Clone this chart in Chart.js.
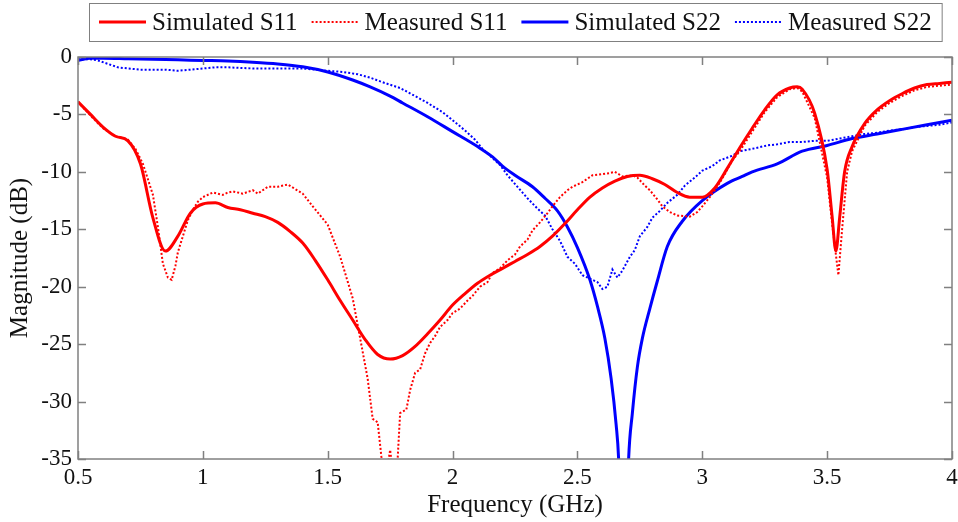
<!DOCTYPE html>
<html>
<head>
<meta charset="utf-8">
<script src="https://cdn.jsdelivr.net/npm/chart.js@4"></script>
<style>
  html, body { margin: 0; padding: 0; background: #fff; }
  canvas { display: block; }
</style>
</head>
<body>
<canvas id="lienzo" width="958" height="522"></canvas>
<script>
// --- data ---
const xTicks = [0.5, 1, 1.5, 2, 2.5, 3, 3.5, 4]
const yTicks = [0, -5, -10, -15, -20, -25, -30, -35]

const simS11Freq = [0.5,0.55,0.6,0.65,0.7,0.75,0.8,0.85,0.9,0.95,1.0,1.05,1.1,1.15,1.2,1.25,1.3,1.35,1.4,1.45,1.5,1.55,1.6,1.65,1.7,1.75,1.8,1.85,1.9,1.95,2.0,2.05,2.1,2.15,2.2,2.25,2.3,2.35,2.4,2.45,2.5,2.55,2.6,2.65,2.7,2.75,2.8,2.85,2.9,2.95,3.0,3.05,3.1,3.15,3.2,3.25,3.3,3.35,3.38,3.4,3.45,3.5,3.52,3.535,3.55,3.57,3.6,3.65,3.7,3.75,3.8,3.85,3.9,3.95,4.0]
const simS11 = [-3.9,-5.0,-6.1,-6.9,-7.3,-9.3,-14.0,-16.9,-15.6,-13.6,-12.8,-12.7,-13.1,-13.3,-13.6,-13.9,-14.4,-15.2,-16.2,-17.7,-19.4,-21.2,-22.9,-24.6,-25.9,-26.3,-26.0,-25.2,-24.1,-22.9,-21.6,-20.6,-19.7,-19.0,-18.4,-17.8,-17.2,-16.5,-15.6,-14.5,-13.3,-12.2,-11.4,-10.8,-10.4,-10.3,-10.6,-11.1,-11.8,-12.2,-12.2,-11.4,-9.7,-7.9,-6.2,-4.6,-3.3,-2.7,-2.6,-2.8,-4.9,-9.8,-13.9,-16.9,-14.0,-10.0,-7.8,-5.8,-4.6,-3.8,-3.2,-2.7,-2.4,-2.3,-2.2]

const meaS11Freq = [0.5,0.55,0.6,0.65,0.7,0.73,0.76,0.8,0.82,0.84,0.86,0.875,0.89,0.9,0.92,0.94,0.96,0.98,1.0,1.04,1.08,1.1,1.12,1.16,1.2,1.22,1.26,1.3,1.34,1.37,1.4,1.44,1.5,1.55,1.6,1.63,1.66,1.68,1.7,1.715,1.73,1.75,1.765,1.78,1.79,1.815,1.83,1.85,1.87,1.89,1.91,1.93,1.95,1.98,2.0,2.03,2.06,2.08,2.11,2.14,2.16,2.19,2.22,2.25,2.27,2.3,2.32,2.35,2.38,2.4,2.43,2.46,2.48,2.52,2.56,2.6,2.63,2.65,2.68,2.72,2.74,2.77,2.79,2.82,2.84,2.87,2.9,2.95,2.98,3.0,3.03,3.06,3.09,3.12,3.15,3.2,3.25,3.3,3.35,3.38,3.4,3.45,3.5,3.52,3.545,3.56,3.58,3.6,3.65,3.7,3.75,3.8,3.85,3.9,3.95,4.0]
const meaS11 = [-3.9,-5.1,-6.2,-6.9,-7.2,-8.0,-9.3,-12.0,-14.8,-18.0,-19.2,-19.4,-18.2,-17.0,-15.6,-14.2,-13.3,-12.6,-12.2,-11.8,-12.0,-11.8,-11.7,-11.9,-11.6,-11.9,-11.3,-11.3,-11.1,-11.5,-11.9,-13.0,-14.6,-17.4,-21.0,-24.5,-28.0,-31.5,-31.8,-34.8,-37.0,-34.2,-37.0,-35.0,-31.0,-30.7,-29.0,-27.5,-27.2,-25.8,-24.9,-24.3,-23.5,-22.9,-22.3,-21.9,-21.2,-20.8,-20.0,-19.6,-18.8,-18.4,-17.7,-17.2,-16.5,-15.9,-15.1,-14.4,-13.6,-13.0,-12.2,-11.6,-11.3,-10.9,-10.3,-10.2,-10.1,-10.0,-10.4,-10.3,-10.5,-11.2,-11.6,-12.4,-13.0,-13.5,-13.8,-13.9,-13.5,-13.0,-12.2,-11.3,-10.2,-9.0,-8.2,-6.5,-4.8,-3.5,-2.8,-2.7,-3.0,-5.3,-10.5,-14.5,-19.0,-15.0,-10.0,-8.2,-6.0,-4.8,-4.0,-3.4,-2.9,-2.6,-2.5,-2.4]

const simS22Freq = [0.5,0.55,0.6,0.7,0.8,0.9,1.0,1.1,1.2,1.3,1.4,1.5,1.6,1.67,1.75,1.8,1.9,2.0,2.1,2.16,2.2,2.25,2.32,2.37,2.42,2.46,2.5,2.55,2.58,2.61,2.635,2.655,2.665,2.685,2.705,2.72,2.74,2.76,2.79,2.82,2.86,2.92,3.0,3.1,3.16,3.2,3.3,3.4,3.5,3.6,3.7,3.8,3.9,4.0]
const simS22 = [-0.3,-0.1,-0.1,-0.15,-0.2,-0.25,-0.3,-0.35,-0.45,-0.6,-0.85,-1.3,-2.0,-2.6,-3.4,-4.0,-5.2,-6.5,-7.8,-8.7,-9.5,-10.3,-11.3,-12.3,-13.4,-14.8,-16.6,-19.4,-21.7,-24.5,-28.0,-32.0,-35.0,-50.0,-35.0,-31.0,-27.0,-24.5,-21.9,-19.5,-16.5,-14.3,-12.5,-11.0,-10.4,-10.0,-9.3,-8.2,-7.7,-7.1,-6.7,-6.3,-5.9,-5.5]

const meaS22Freq = [0.5,0.55,0.58,0.62,0.66,0.7,0.75,0.8,0.85,0.9,0.95,1.0,1.05,1.1,1.2,1.3,1.4,1.5,1.56,1.62,1.67,1.72,1.79,1.85,1.9,1.93,1.96,2.0,2.05,2.09,2.12,2.16,2.19,2.22,2.26,2.3,2.34,2.37,2.4,2.43,2.46,2.49,2.52,2.55,2.58,2.6,2.62,2.64,2.66,2.68,2.71,2.73,2.75,2.78,2.8,2.83,2.86,2.9,2.93,2.97,3.0,3.04,3.07,3.12,3.15,3.2,3.26,3.3,3.35,3.4,3.45,3.5,3.55,3.6,3.65,3.7,3.75,3.8,3.85,3.9,3.95,4.0]
const meaS22 = [-0.2,-0.2,-0.3,-0.6,-0.9,-1.0,-1.1,-1.1,-1.1,-1.2,-1.1,-1.0,-0.9,-0.9,-1.0,-1.0,-1.0,-1.2,-1.3,-1.5,-1.8,-2.2,-2.7,-3.4,-4.0,-4.4,-4.8,-5.5,-6.4,-7.2,-8.0,-8.8,-9.4,-10.3,-11.3,-12.3,-13.2,-13.8,-15.0,-16.0,-17.4,-18.0,-19.0,-19.3,-19.6,-20.2,-20.0,-18.5,-19.2,-18.6,-17.4,-16.8,-15.6,-14.8,-14.0,-13.4,-12.7,-12.0,-11.2,-10.5,-9.9,-9.5,-9.0,-8.6,-8.2,-8.0,-7.7,-7.6,-7.4,-7.4,-7.3,-7.3,-7.1,-6.9,-6.7,-6.6,-6.4,-6.3,-6.1,-6.0,-5.9,-5.7]

const etiquetas = ['Simulated S11', 'Measured S11', 'Simulated S22', 'Measured S22']

const rojo = '#ff0000'
const azul = '#0000ff'
const serif = '"Liberation Serif", "Times New Roman", serif'

const puntos = (fx, fy) => fx.map((v, i) => ({ x: v, y: fy[i] }))

// inward ticks on all four sides + gray frame
const marco = {
    id: 'marco',
    afterDatasetsDraw(chart) {
        const { ctx, chartArea: a, scales } = chart
        ctx.save()
        ctx.strokeStyle = '#808080'
        ctx.lineWidth = 1.5
        ctx.beginPath()
        xTicks.forEach(t => {
            const px = Math.round(scales.x.getPixelForValue(t)) + 0.5
            ctx.moveTo(px, a.bottom); ctx.lineTo(px, a.bottom - 8)
            ctx.moveTo(px, a.top); ctx.lineTo(px, a.top + 8)
        })
        yTicks.forEach(t => {
            const py = Math.round(scales.y.getPixelForValue(t)) + 0.5
            ctx.moveTo(a.left, py); ctx.lineTo(a.left + 8, py)
            ctx.moveTo(a.right, py); ctx.lineTo(a.right - 8, py)
        })
        ctx.stroke()
        ctx.strokeRect(a.left, a.top, a.right - a.left, a.bottom - a.top)
        ctx.restore()
    },
    afterDraw(chart) {
        // boxed legend above the plot
        const { ctx, chartArea: a } = chart
        const muestra = 47, hueco = 6, sep = 14, pad = 10
        ctx.save()
        ctx.font = '25px ' + serif
        const anchos = etiquetas.map(t => ctx.measureText(t).width)
        let total = pad * 2 + anchos.reduce((s, w) => s + w + muestra + hueco, 0) + sep * (etiquetas.length - 1)
        const x0 = Math.round((a.left + a.right) / 2 - total / 2)
        const top = 3, alto = 38
        ctx.fillStyle = '#fff'
        ctx.fillRect(x0, top, total, alto)
        ctx.strokeStyle = '#808080'
        ctx.lineWidth = 1
        ctx.strokeRect(x0 + 0.5, top + 0.5, total, alto)
        let x = x0 + pad
        const yc = top + alto / 2
        chart.data.datasets.forEach((ds, i) => {
            ctx.strokeStyle = ds.borderColor
            ctx.lineWidth = ds.borderWidth
            ctx.setLineDash(ds.borderDash || [])
            ctx.beginPath()
            ctx.moveTo(x, yc); ctx.lineTo(x + muestra, yc)
            ctx.stroke()
            ctx.setLineDash([])
            x += muestra + hueco
            ctx.fillStyle = '#111'
            ctx.textBaseline = 'middle'
            ctx.fillText(etiquetas[i], x, yc + 1)
            x += anchos[i] + sep
        })
        ctx.restore()
    }
}

new Chart(document.getElementById('lienzo'), {
    type: 'line',
    data: {
        datasets: [
            { label: etiquetas[0], data: puntos(simS11Freq, simS11), borderColor: rojo, borderWidth: 3, cubicInterpolationMode: 'monotone' },
            { label: etiquetas[1], data: puntos(meaS11Freq, meaS11), borderColor: rojo, borderWidth: 2, borderDash: [2, 2], tension: 0 },
            { label: etiquetas[2], data: puntos(simS22Freq, simS22), borderColor: azul, borderWidth: 3, cubicInterpolationMode: 'monotone' },
            { label: etiquetas[3], data: puntos(meaS22Freq, meaS22), borderColor: azul, borderWidth: 2, borderDash: [2, 2], tension: 0 }
        ]
    },
    options: {
        responsive: false,
        animation: false,
        devicePixelRatio: 1,
        layout: { padding: { top: 57, right: 6, left: 0, bottom: 0 } },
        elements: { point: { radius: 0 } },
        plugins: { legend: { display: false }, tooltip: { enabled: false } },
        scales: {
            x: {
                type: 'linear', min: 0.5, max: 4,
                grid: { display: false, drawTicks: false },
                border: { display: false },
                afterFit: s => { s.height = 63; s.paddingLeft = 0; s.paddingRight = 0 },
                afterBuildTicks: s => { s.ticks = xTicks.map(v => ({ value: v })) },
                ticks: { color: '#111', font: { family: serif, size: 23 }, padding: 5, maxRotation: 0, callback: v => String(v) },
                title: { display: true, text: 'Frequency (GHz)', color: '#111', font: { family: serif, size: 25 }, padding: { top: 0, bottom: 2 } }
            },
            y: {
                min: -35, max: 0,
                grid: { display: false, drawTicks: false },
                border: { display: false },
                afterFit: s => { s.width = 78; s.paddingTop = 0; s.paddingBottom = 0 },
                afterBuildTicks: s => { s.ticks = yTicks.map(v => ({ value: v })) },
                ticks: { color: '#111', font: { family: serif, size: 23 }, padding: 6, callback: v => String(v) },
                title: { display: true, text: 'Magnitude (dB)', color: '#111', font: { family: serif, size: 25 }, padding: { top: 5, bottom: 0 } }
            }
        }
    },
    plugins: [marco]
})
</script>
</body>
</html>
